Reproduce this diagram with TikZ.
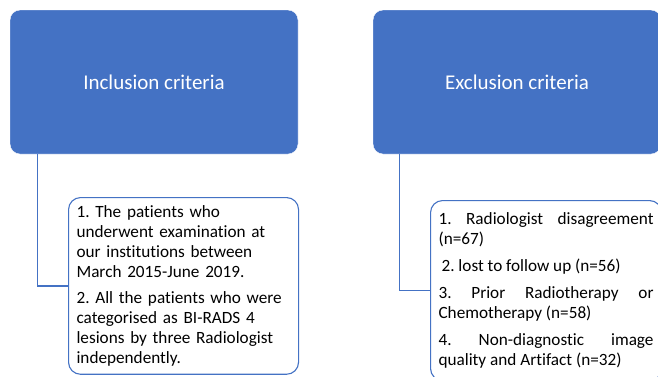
\documentclass[tikz,border=0pt]{standalone}
\usepackage{fontspec}
\setmainfont{Carlito}[Ligatures=NoCommon]
\frenchspacing
\hyphenpenalty=10000
\definecolor{boxblue}{HTML}{4472C4}
\begin{document}
\begin{tikzpicture}[x=1pt,y=-1pt,
  head/.style={fill=boxblue,draw=white,rounded corners=10pt,minimum width=288pt,minimum height=144pt,text=white,font=\fontsize{21}{24}\selectfont},
  list/.style={draw=boxblue,line width=1.1pt,rounded corners=12pt,fill=white,inner sep=8pt,font=\fontsize{17.2}{20}\selectfont},
  link/.style={draw=boxblue,line width=1.2pt}]
  \useasboundingbox (0,0) rectangle (658,376);
  \clip (0,0) rectangle (658,376);
  % top boxes
  \node[head] (inc) at (154,82) {Inclusion criteria};
  \node[head] (exc) at (517,82) {Exclusion criteria};
  % lists
  \node[list,anchor=north west,text width=214pt,minimum height=173pt,align=left] (incl) at (68,197)
    {1. The patients who\\ underwent examination at\\ our institutions between\\ March 2015-June 2019.\\[6pt]
     2. All the patients who were\\ categorised as \mbox{BI-RADS} 4\\ lesions by three Radiologist\\ independently.};
  \node[list,anchor=north west,text width=215pt,minimum height=180pt,align=justify] (excl) at (430,200)
    {1. Radiologist disagreement (n=67)\par\vspace{7pt}
     \hspace*{3pt}2. lost to follow up (n=56)\par\vspace{7pt}
     3. Prior Radiotherapy or Chemotherapy (n=58)\par\vspace{7pt}
     4. Non-diagnostic image quality and Artifact (n=32)};
  % connectors
  \draw[link] ([xshift=28pt]inc.south west) |- (incl.west);
  \draw[link] ([xshift=27pt]exc.south west) |- (excl.west);
\end{tikzpicture}
\end{document}
